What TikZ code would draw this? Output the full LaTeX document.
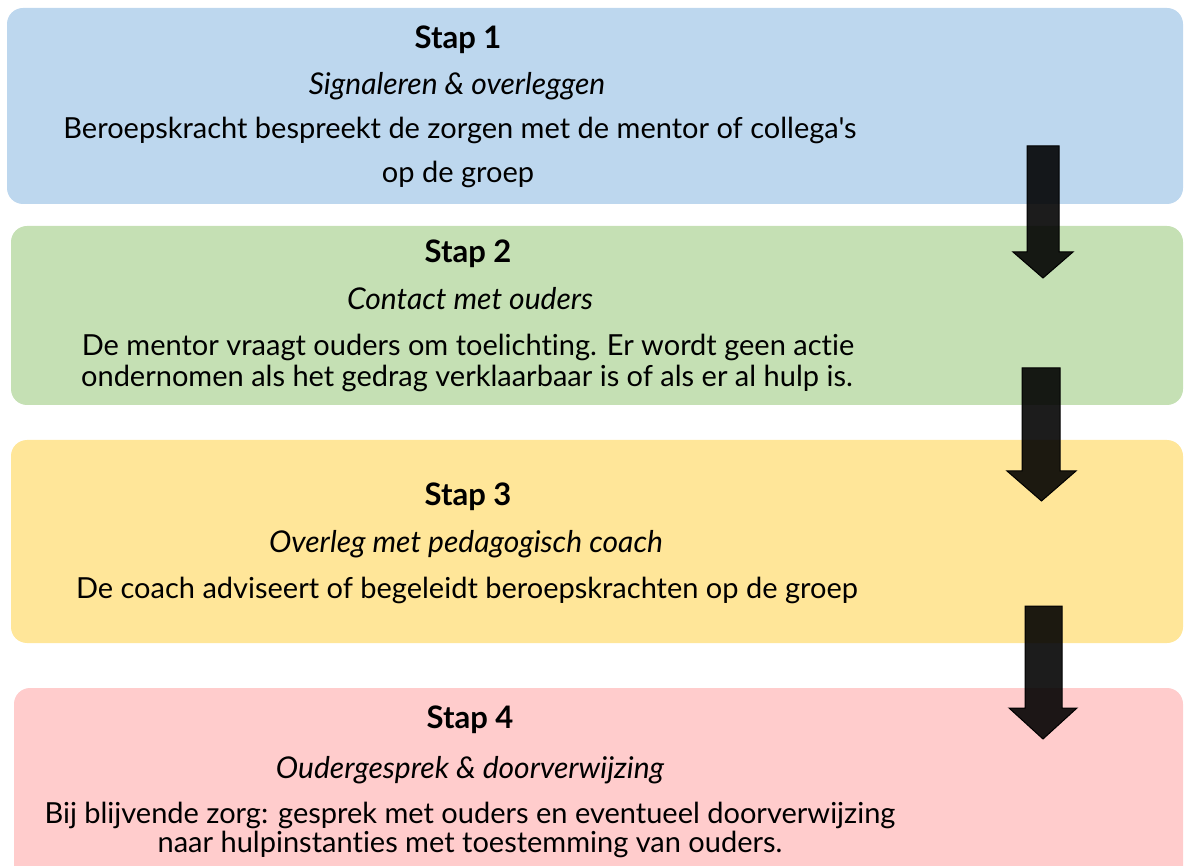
\documentclass[tikz,border=0pt]{standalone}
\usepackage{fontspec}
\setmainfont{Lato}[Ligatures={TeXOff,CommonOff}]
\usetikzlibrary{positioning}

\definecolor{stapblauw}{RGB}{189,215,238}
\definecolor{stapgroen}{RGB}{197,224,180}
\definecolor{stapgeel}{RGB}{255,230,153}
\definecolor{staproze}{RGB}{255,204,204}

\begin{document}
\begin{tikzpicture}[x=1pt, y=-1pt,
  stapvak/.style={rounded corners=16pt},
  titel/.style={anchor=base, font=\fontsize{31}{34}\selectfont\bfseries},
  kop/.style={anchor=base, font=\fontsize{30}{34}\selectfont\itshape},
  tekst/.style={anchor=base, font=\fontsize{29}{34}\selectfont},
  pijl/.style={fill=black, fill opacity=0.89, draw=black, line width=1pt, line join=miter}]
\useasboundingbox (0,0) rectangle (1184,866);
\clip (0,0) rectangle (1184,866);

% vakken
\fill [stapblauw, stapvak] (7,8) rectangle (1183,204);
\fill [stapgroen, stapvak] (11,226) rectangle (1183,405);
\fill [stapgeel, stapvak] (11,440) rectangle (1183,643);
\fill [staproze, stapvak] (14,688) rectangle (1183,900);

% stap 1
\node [titel] (titel1) at (458,49) {Stap 1};
\node [kop] (kop1) at (457,95) {Signaleren \& overleggen};
\node [tekst] (tekst1a) at (460,139) {Beroepskracht bespreekt de zorgen met de mentor of collega's};
\node [tekst] (tekst1b) at (458,183) {op de groep};

% stap 2
\node [titel] (titel2) at (468,263) {Stap 2};
\node [kop] (kop2) at (470,310) {Contact met ouders};
\node [tekst] (tekst2a) at (468,356) {De mentor vraagt ouders om toelichting. Er wordt geen actie};
\node [tekst] (tekst2b) at (467,387) {ondernomen als het gedrag verklaarbaar is of als er al hulp is.};

% stap 3
\node [titel] (titel3) at (468,505) {Stap 3};
\node [kop] (kop3) at (466,552) {Overleg met pedagogisch coach};
\node [tekst] (tekst3) at (467,598) {De coach adviseert of begeleidt beroepskrachten op de groep};

% stap 4
\node [titel] (titel4) at (470,728) {Stap 4};
\node [kop] (kop4) at (470,778) {Oudergesprek \& doorverwijzing};
\node [tekst] (tekst4a) at (470,823) {Bij blijvende zorg: gesprek met ouders en eventueel doorverwijzing};
\node [tekst] (tekst4b) at (470,852) {naar hulpinstanties met toestemming van ouders.};

% pijlen
\foreach \sl/\sr/\yt/\yh/\wl/\wr/\yb in {1027/1059/146/252/1013/1073/278,
    1022/1060/368/471/1007/1076/501, 1025/1062/606/708/1009/1077/739}
  \filldraw [pijl] (\sl,\yt) -- (\sr,\yt) -- (\sr,\yh) -- (\wr,\yh)
    -- ({(\wl+\wr)/2},\yb) -- (\wl,\yh) -- (\sl,\yh) -- cycle;
\end{tikzpicture}
\end{document}
